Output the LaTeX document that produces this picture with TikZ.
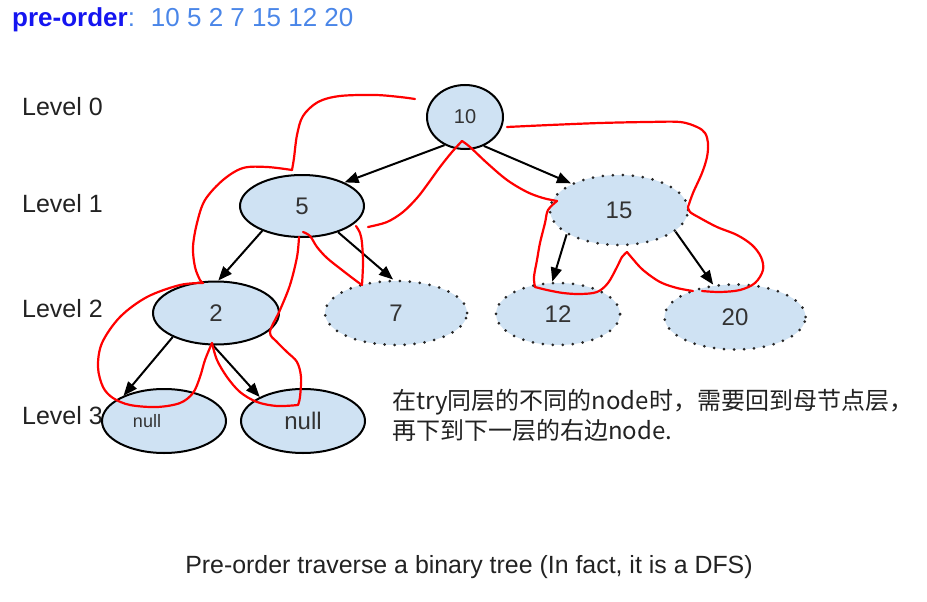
\documentclass[tikz,border=0pt]{standalone}
\usepackage{fontspec}
\setmainfont{Liberation Sans}
\newfontfamily\cjk{Noto Sans CJK SC}
\usetikzlibrary{shapes.geometric,arrows.meta}
\definecolor{nfill}{HTML}{CFE2F3}
\definecolor{ntext}{HTML}{333333}
\definecolor{lvltext}{HTML}{222222}
\definecolor{trailred}{HTML}{FF0000}
\definecolor{titleblue}{HTML}{1515F0}
\definecolor{numblue}{HTML}{4A86E8}
\tikzset{
  solidnode/.style={ellipse, draw=black, line width=2pt, fill=nfill, inner sep=0pt, text=ntext},
  dotnode/.style={ellipse, draw=black!85, line width=3pt, dash pattern=on 0pt off 10pt, line cap=round, fill=nfill, inner sep=0pt, text=ntext},
  arr/.style={draw=black, line width=2pt, -{Triangle[length=14pt,width=11pt]}},
  trail/.style={draw=trailred, line width=2.2pt, line cap=round, line join=round},
  lvl/.style={anchor=west, inner sep=0pt, text=lvltext, font=\fontsize{25}{29}\selectfont},
}
\begin{document}
\begin{tikzpicture}[x=1pt,y=-1pt]
\useasboundingbox (0,0) rectangle (927,602);

% title
\node[anchor=base west, inner sep=0pt] (title) at (12,27)
  {{\fontsize{26}{30}\selectfont\bfseries\color{titleblue}pre-order}{\fontsize{26}{30}\selectfont\color{numblue}:\hspace{16pt}10 5 2 7 15 12 20}};

% level labels
\node[lvl] (l0) at (22,107) {Level 0};
\node[lvl] (l1) at (22,204) {Level 1};
\node[lvl] (l2) at (22,309) {Level 2};
\node[lvl] (l3) at (22,416) {Level 3};

% tree nodes
\node[solidnode, minimum width=76pt, minimum height=64pt, font=\fontsize{20}{24}\selectfont] (n10) at (465,117) {10};
\node[solidnode, minimum width=124pt, minimum height=62pt, font=\fontsize{24}{28}\selectfont] (n5) at (302,206) {5};
\node[dotnode, minimum width=138pt, minimum height=70pt, font=\fontsize{24}{28}\selectfont] (n15) at (619,210) {15};
\node[solidnode, minimum width=126pt, minimum height=63pt, font=\fontsize{24}{28}\selectfont] (n2) at (216,313) {2};
\node[dotnode, minimum width=142pt, minimum height=64pt, font=\fontsize{24}{28}\selectfont] (n7) at (396,313) {7};
\node[dotnode, minimum width=124pt, minimum height=62pt, font=\fontsize{24}{28}\selectfont] (n12) at (558,314) {12};
\node[dotnode, minimum width=141pt, minimum height=65pt, font=\fontsize{24}{28}\selectfont] (n20) at (735,317) {20};
\node[solidnode, minimum width=124pt, minimum height=64pt, font=\fontsize{18}{21}\selectfont] (nl1) at (164,421) {\kern-17pt null\kern17pt};
\node[solidnode, minimum width=124pt, minimum height=64pt, font=\fontsize{24}{28}\selectfont] (nl2) at (303,421) {null};

% tree edges
\draw[arr] (n10.234) -- (n5.29);
\draw[arr] (n10.303) -- (n15.151);
\draw[arr] (n5.212) -- (n2.86);
\draw[arr] (n5.324) -- (n7.95);
\draw[arr] (n15.205) -- (n12.100);
\draw[arr] (n15.339) -- (n20.124);
\draw[arr] (n2.209) -- (nl1.148);
\draw[arr] (n2.265) -- (nl2.151);

% red traversal trail
\draw[trail] plot[smooth, tension=0.55] coordinates {(415,99) (400,97) (375,95) (340,96) (318,102) (303,116) (297,135) (294,158) (292,170)};
\draw[trail] plot[smooth, tension=0.55] coordinates {(292,170) (267,167) (243,168) (223,180) (205,200) (197,223) (193,247) (195,267) (200,280) (203,283)};
\draw[trail] plot[smooth, tension=0.55] coordinates {(203,283) (180,285) (147,297) (120,317) (102,343) (98,367) (103,387) (113,398) (130,405) (157,407) (180,403) (193,393) (200,377) (205,360) (212,343)};
\draw[trail] plot[smooth, tension=0.55] coordinates {(212,343) (217,360) (227,377) (240,392) (257,402) (277,406) (298,405)};
\draw[trail] plot[smooth, tension=0.55] coordinates {(298,405) (300,397) (301,377) (297,362) (287,352) (277,342) (270,332) (280,310) (290,285) (297,257) (299,237)};
\draw[trail] plot[smooth, tension=0.55] coordinates {(303,232) (310,236) (317,247) (327,258) (342,270) (355,280) (362,285)};
\draw[trail] plot[smooth, tension=0.55] coordinates {(362,285) (363,263) (362,243) (360,233) (356,226)};
\draw[trail] plot[smooth, tension=0.55] coordinates {(368,227) (387,222) (403,212) (417,198) (427,185) (440,167) (452,152) (462,141)};
\draw[trail] plot[smooth, tension=0.55] coordinates {(462,141) (470,147) (487,163) (507,180) (527,192) (543,198) (557,201)};
\draw[trail] plot[smooth, tension=0.55] coordinates {(557,201) (548,210) (545,223) (540,243) (537,260) (534,277) (535,287)};
\draw[trail] plot[smooth, tension=0.55] coordinates {(535,287) (547,290) (563,293) (580,294) (597,292) (608,283) (617,267) (622,257) (627,252)};
\draw[trail] plot[smooth, tension=0.55] coordinates {(627,252) (632,258) (643,270) (660,282) (677,288) (693,291)};
\draw[trail] plot[smooth, tension=0.55] coordinates {(702,291) (720,292) (740,290) (755,283) (763,270) (761,257) (752,245) (737,235) (717,227) (700,218) (690,212) (688,207)};
\draw[trail] plot[smooth, tension=0.55] coordinates {(688,207) (693,193) (702,173) (707,157) (708,143) (705,133) (697,127) (680,122) (647,122) (600,123) (550,125) (507,127)};

% note
\node[anchor=base west, inner sep=0pt, text=lvltext, font=\cjk\fontsize{24}{30}\selectfont] (note1) at (392,409) {在try同层的不同的node时，需要回到母节点层，};
\node[anchor=base west, inner sep=0pt, text=lvltext, font=\cjk\fontsize{24}{30}\selectfont] (note2) at (392,439) {再下到下一层的右边node.};

% caption
\node[anchor=base, inner sep=0pt, text=lvltext, font=\fontsize{24.9}{29}\selectfont] (caption) at (469,573) {Pre-order traverse a binary tree (In fact, it is a DFS)};
\end{tikzpicture}
\end{document}
